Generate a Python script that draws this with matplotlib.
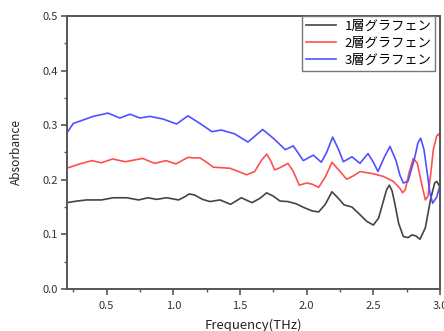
import matplotlib
matplotlib.use("Agg")
import matplotlib.pyplot as plt
from matplotlib.ticker import MultipleLocator

plt.rcParams['font.family'] = ['Noto Sans CJK JP', 'DejaVu Sans']

labels = ["1層グラフェン", "2層グラフェン", "3層グラフェン"]

x1 = [0.20, 0.28, 0.35, 0.46, 0.55, 0.65, 0.74, 0.81, 0.875, 0.95, 1.04, 1.08, 1.12, 1.16,
      1.22, 1.275, 1.35, 1.43, 1.51, 1.59, 1.65, 1.70, 1.75, 1.80, 1.86, 1.92, 1.98, 2.04,
      2.09, 2.14, 2.19, 2.23, 2.28, 2.34, 2.40, 2.45, 2.50, 2.54, 2.58, 2.60, 2.62, 2.64, 2.66, 2.69,
      2.725, 2.76, 2.79, 2.82, 2.85, 2.89, 2.93, 2.96, 2.975, 3.00]
y1 = [0.158, 0.161, 0.163, 0.163, 0.167, 0.167, 0.163, 0.167, 0.164, 0.167, 0.163, 0.168, 0.174, 0.172,
      0.164, 0.160, 0.163, 0.155, 0.167, 0.158, 0.166, 0.176, 0.170, 0.161, 0.160, 0.156, 0.149, 0.143,
      0.141, 0.155, 0.178, 0.168, 0.154, 0.150, 0.136, 0.124, 0.117, 0.130, 0.165, 0.182, 0.190, 0.180, 0.158, 0.120,
      0.096, 0.094, 0.099, 0.097, 0.091, 0.112, 0.165, 0.194, 0.197, 0.187]

x2 = [0.20, 0.30, 0.39, 0.46, 0.545, 0.64, 0.77, 0.86, 0.945, 1.02, 1.11, 1.15, 1.20, 1.25,
      1.30, 1.425, 1.50, 1.55, 1.61, 1.66, 1.70, 1.73, 1.76, 1.80, 1.86, 1.90, 1.945, 2.00,
      2.04, 2.09, 2.14, 2.19, 2.24, 2.30, 2.35, 2.40, 2.50, 2.575, 2.65, 2.70, 2.72, 2.74, 2.77, 2.80,
      2.83, 2.86, 2.89, 2.91, 2.93, 2.95, 2.975, 2.99, 3.00]
y2 = [0.221, 0.229, 0.235, 0.231, 0.238, 0.233, 0.239, 0.230, 0.235, 0.229, 0.241, 0.240, 0.240, 0.232,
      0.223, 0.221, 0.214, 0.209, 0.215, 0.235, 0.247, 0.235, 0.218, 0.222, 0.230, 0.215, 0.190, 0.194,
      0.192, 0.186, 0.205, 0.232, 0.218, 0.201, 0.207, 0.215, 0.211, 0.206, 0.197, 0.184, 0.176, 0.182, 0.215, 0.239,
      0.230, 0.195, 0.163, 0.170, 0.210, 0.255, 0.280, 0.284, 0.278]

x3 = [0.20, 0.25, 0.40, 0.51, 0.60, 0.675, 0.75, 0.825, 0.925, 1.025, 1.11, 1.20, 1.29, 1.36,
      1.46, 1.56, 1.67, 1.75, 1.84, 1.90, 1.975, 2.05, 2.11, 2.15, 2.195, 2.24, 2.275, 2.34,
      2.40, 2.46, 2.50, 2.535, 2.58, 2.625, 2.67, 2.70, 2.725, 2.76, 2.81, 2.835, 2.855, 2.88, 2.90,
      2.925, 2.945, 2.975, 3.00]
y3 = [0.285, 0.303, 0.316, 0.322, 0.313, 0.320, 0.313, 0.316, 0.311, 0.302, 0.317, 0.303, 0.288, 0.291,
      0.284, 0.269, 0.292, 0.276, 0.255, 0.262, 0.235, 0.245, 0.232, 0.250, 0.278, 0.255, 0.233, 0.242,
      0.230, 0.248, 0.232, 0.215, 0.240, 0.261, 0.235, 0.208, 0.194, 0.197, 0.240, 0.268, 0.276, 0.255, 0.220,
      0.175, 0.157, 0.168, 0.190]

colors = ["#444444", "#ff5050", "#5050ff"]

fig = plt.figure(figsize=(4.44, 3.31), dpi=100)
ax = fig.add_axes([0.150, 0.127, 0.841, 0.825])

for xs, ys, c, lab in zip([x1, x2, x3], [y1, y2, y3], colors, labels):
    ax.plot(xs, ys, color=c, lw=1.2, label=lab, solid_joinstyle='round')

ax.set_xlim(0.2, 3.0)
ax.set_ylim(0.0, 0.5)
ax.xaxis.set_major_locator(MultipleLocator(0.5))
ax.xaxis.set_minor_locator(MultipleLocator(0.25))
ax.yaxis.set_major_locator(MultipleLocator(0.1))
ax.yaxis.set_minor_locator(MultipleLocator(0.05))
ax.xaxis.set_major_formatter(plt.FuncFormatter(lambda v, p: f"{v:.1f}"))
ax.yaxis.set_major_formatter(plt.FuncFormatter(lambda v, p: f"{v:.1f}"))
ax.tick_params(which='both', direction='out', color='#555555', labelsize=8,
               labelcolor='#333333', top=False, right=False)
ax.tick_params(axis='x', which='major', pad=5)
ax.tick_params(axis='y', which='major', pad=2)
ax.tick_params(which='major', length=4, width=1.2)
ax.tick_params(which='minor', length=2.5, width=1.0)
for s in ax.spines.values():
    s.set_color('#555555')
    s.set_linewidth(1.4)

ax.set_xlabel("Frequency(THz)", fontsize=9.5, color='#222222', labelpad=5)
ax.set_ylabel("Absorbance", fontsize=8.5, color='#222222', labelpad=14)

leg = ax.legend(loc='upper right', bbox_to_anchor=(0.987, 1.0), fontsize=9.5,
                frameon=True, fancybox=False, framealpha=1, edgecolor='#777777',
                handlelength=2.3, handletextpad=0.6, borderpad=0.3, labelspacing=0.3,
                borderaxespad=0.0)
leg.get_frame().set_linewidth(1.0)

fig.savefig("out.png", dpi=100)
